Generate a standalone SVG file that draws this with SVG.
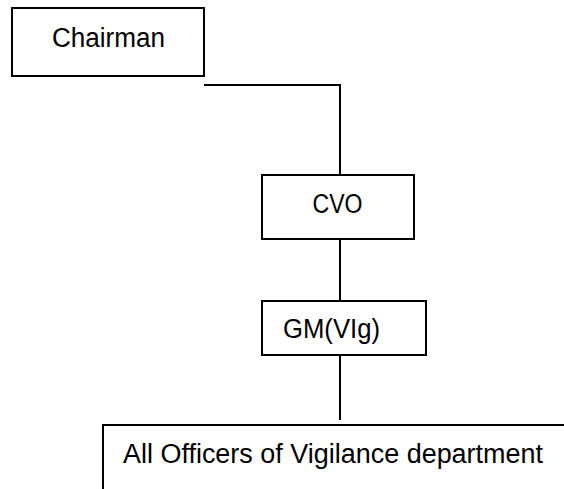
<svg xmlns="http://www.w3.org/2000/svg" width="564" height="489" viewBox="0 0 564 489">
<style>
.box{fill:#fff;stroke:#000;stroke-width:2}
.ln{fill:none;stroke:#000;stroke-width:2}
.t{font-family:"Liberation Sans",Arial,sans-serif;font-size:27px;fill:#000}
</style>
<rect width="564" height="489" fill="#fff"/>
<g id="connectors">
<polyline class="ln" points="204,85 340,85 340,175"/>
<line class="ln" x1="340" y1="239" x2="340" y2="301"/>
<line class="ln" x1="340" y1="355" x2="340" y2="420"/>
</g>
<g id="chairman">
<rect class="box" x="12" y="8" width="192" height="68"/>
<text class="t" x="108.5" y="47" text-anchor="middle" textLength="113" lengthAdjust="spacingAndGlyphs">Chairman</text>
</g>
<g id="cvo">
<rect class="box" x="262" y="175" width="152" height="64"/>
<text class="t" x="337.5" y="213" text-anchor="middle" textLength="50" lengthAdjust="spacingAndGlyphs">CVO</text>
</g>
<g id="gm">
<rect class="box" x="262" y="301" width="164" height="54"/>
<text class="t" x="283" y="338" textLength="97" lengthAdjust="spacingAndGlyphs">GM(VIg)</text>
</g>
<g id="officers">
<path class="ln" d="M103,492 L103,425 L566,425"/>
<text class="t" x="123" y="463" textLength="420" lengthAdjust="spacingAndGlyphs">All Officers of Vigilance department</text>
</g>
</svg>
